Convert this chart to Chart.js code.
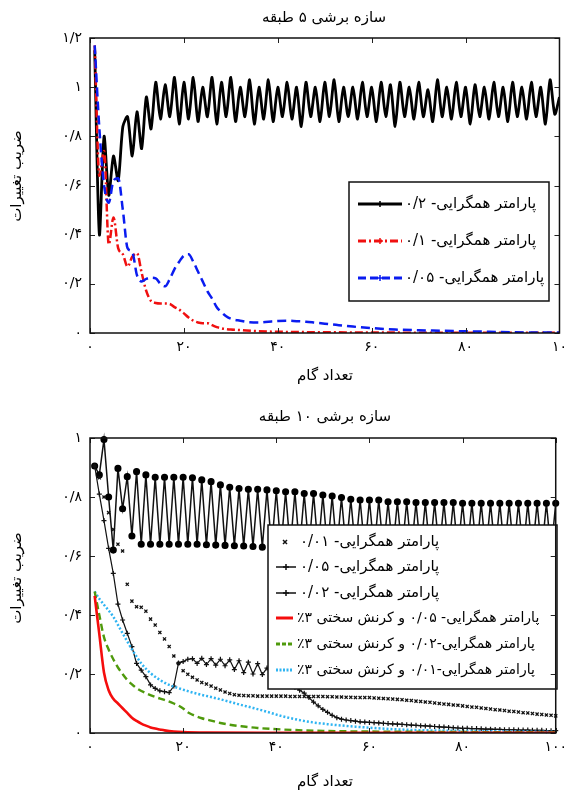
<!DOCTYPE html>
<html lang="fa">
<head>
<meta charset="utf-8">
<title>ضریب تغییرات - سازه برشی</title>
<script src="https://cdn.jsdelivr.net/npm/chart.js@4.4.1/dist/chart.umd.min.js"></script>
<style>
    body { margin: 0; background: #fff; }
    .panel { position: absolute; left: 0; width: 573px; }
    #panel5 { top: 0; height: 400px; }
    #panel10 { top: 400px; height: 396px; }
</style>
</head>
<body>
<div class="panel" id="panel5"><canvas id="chart5" width="573" height="400"></canvas></div>
<div class="panel" id="panel10"><canvas id="chart10" width="573" height="396"></canvas></div>
<script>
const FONT = '"DejaVu Sans", sans-serif';

// گام‌ها (محور افقی)
const steps = [
    1, 2, 3, 4, 5, 6, 7, 8, 9, 10, 11, 12, 13, 14, 15, 16, 17, 18, 19, 20,
    21, 22, 23, 24, 25, 26, 27, 28, 29, 30, 31, 32, 33, 34, 35, 36, 37, 38, 39, 40,
    41, 42, 43, 44, 45, 46, 47, 48, 49, 50, 51, 52, 53, 54, 55, 56, 57, 58, 59, 60,
    61, 62, 63, 64, 65, 66, 67, 68, 69, 70, 71, 72, 73, 74, 75, 76, 77, 78, 79, 80,
    81, 82, 83, 84, 85, 86, 87, 88, 89, 90, 91, 92, 93, 94, 95, 96, 97, 98, 99, 100
];

// ---- سازه ۵ طبقه ----
const xTicks5 = ['۰', '۲۰', '۴۰', '۶۰', '۸۰', '۱۰'];
const yTicks5 = ['۰', '۰/۲', '۰/۴', '۰/۶', '۰/۸', '۱', '۱/۲'];

const beta02_5 = [
    1.15, 0.40, 0.80, 0.56, 0.72, 0.62, 0.84, 0.88, 0.72, 0.90,
    0.75, 0.96, 0.83, 1.02, 0.87, 1.01, 0.88, 1.04, 0.85, 1.02,
    0.87, 1.04, 0.86, 1.00, 0.88, 1.04, 0.85, 1.02, 0.88, 1.04,
    0.86, 1.00, 0.88, 1.03, 0.85, 1.00, 0.87, 1.03, 0.86, 1.00,
    0.88, 1.02, 0.87, 1.00, 0.84, 1.02, 0.88, 1.00, 0.86, 1.02,
    0.88, 1.03, 0.86, 1.00, 0.88, 1.00, 0.87, 1.02, 0.88, 1.00,
    0.86, 1.02, 0.88, 1.01, 0.84, 1.02, 0.88, 1.00, 0.87, 1.02,
    0.88, 0.99, 0.86, 1.03, 0.88, 1.00, 0.87, 1.02, 0.88, 1.00,
    0.85, 1.01, 0.88, 1.00, 0.87, 1.02, 0.88, 1.00, 0.86, 1.02,
    0.88, 1.00, 0.87, 1.02, 0.88, 1.00, 0.85, 1.03, 0.89, 0.96
];

const beta01X_5 = [1, 2, 3, 4, 5, 6, 7, 8, 9, 10, 11, 12, 13, 14, 15, 16, 17, 18, 19, 20,
    21, 22, 23, 24, 25, 26, 27, 28, 29, 30, 32, 35, 40, 50, 60, 80, 100];
const beta01Y_5 = [1.17, 0.64, 0.74, 0.36, 0.47, 0.345, 0.32, 0.27, 0.31, 0.325, 0.245, 0.17, 0.13, 0.122, 0.12, 0.12, 0.118, 0.105, 0.095, 0.08,
    0.063, 0.05, 0.043, 0.04, 0.04, 0.032, 0.024, 0.019, 0.016, 0.014, 0.012, 0.008, 0.005, 0.003, 0.002, 0.001, 0.001];

const beta005X_5 = [1, 2, 3, 4, 5, 6, 7, 8, 9, 10, 11, 12, 13, 14, 15, 16, 17, 18, 19, 20,
    21, 22, 23, 24, 25, 26, 27, 28, 29, 30, 32, 34, 36, 38, 40, 42, 44, 46, 48, 50,
    53, 56, 60, 65, 70, 75, 80, 85, 90, 95, 100];
const beta005Y_5 = [1.17, 0.83, 0.60, 0.53, 0.62, 0.63, 0.50, 0.345, 0.33, 0.235, 0.21, 0.22, 0.225, 0.222, 0.20, 0.19, 0.22, 0.26, 0.29, 0.315,
    0.32, 0.29, 0.25, 0.21, 0.17, 0.14, 0.105, 0.085, 0.068, 0.058, 0.05, 0.044, 0.043, 0.046, 0.049, 0.05, 0.048, 0.046, 0.042, 0.038,
    0.032, 0.026, 0.02, 0.014, 0.011, 0.009, 0.007, 0.005, 0.003, 0.002, 0.002];

// ---- سازه ۱۰ طبقه ----
const xTicks10 = ['۰', '۲۰', '۴۰', '۶۰', '۸۰', '۱۰۰'];
const yTicks10 = ['۰', '۰/۲', '۰/۴', '۰/۶', '۰/۸', '۱'];

const beta001_10 = [
    0.905, 0.865, 0.80, 0.747, 0.69, 0.64, 0.617, 0.504, 0.447, 0.428,
    0.426, 0.413, 0.386, 0.366, 0.341, 0.319, 0.293, 0.261, 0.236, 0.211,
    0.199, 0.189, 0.18, 0.171, 0.166, 0.159, 0.152, 0.146, 0.139, 0.134,
    0.13, 0.128, 0.127, 0.126, 0.126, 0.125, 0.125, 0.125, 0.125, 0.125,
    0.125, 0.125, 0.124, 0.124, 0.124, 0.124, 0.124, 0.124, 0.124, 0.124,
    0.123, 0.123, 0.122, 0.122, 0.121, 0.121, 0.12, 0.12, 0.12, 0.12,
    0.119, 0.118, 0.117, 0.116, 0.115, 0.114, 0.113, 0.111, 0.11, 0.108,
    0.107, 0.105, 0.104, 0.102, 0.1, 0.098, 0.097, 0.095, 0.094, 0.092,
    0.09, 0.088, 0.087, 0.085, 0.083, 0.081, 0.079, 0.078, 0.076, 0.074,
    0.073, 0.071, 0.069, 0.068, 0.066, 0.064, 0.063, 0.061, 0.06, 0.058
];

const beta005_10 = [
    0.905, 0.875, 0.995, 0.80, 0.62, 0.897, 0.76, 0.869, 0.668, 0.886,
    0.64, 0.875, 0.64, 0.867, 0.64, 0.867, 0.64, 0.867, 0.64, 0.867,
    0.64, 0.865, 0.64, 0.858, 0.638, 0.852, 0.637, 0.841, 0.636, 0.833,
    0.635, 0.829, 0.634, 0.826, 0.632, 0.826, 0.63, 0.824, 0.628, 0.821,
    0.626, 0.818, 0.625, 0.818, 0.624, 0.812, 0.623, 0.812, 0.622, 0.807,
    0.621, 0.803, 0.62, 0.798, 0.62, 0.792, 0.619, 0.79, 0.618, 0.79,
    0.618, 0.79, 0.617, 0.784, 0.617, 0.784, 0.616, 0.784, 0.616, 0.781,
    0.615, 0.781, 0.615, 0.781, 0.615, 0.781, 0.614, 0.781, 0.614, 0.779,
    0.614, 0.779, 0.613, 0.779, 0.613, 0.779, 0.613, 0.779, 0.613, 0.779,
    0.612, 0.779, 0.612, 0.779, 0.612, 0.779, 0.612, 0.779, 0.612, 0.779
];

const beta002_10 = [
    0.905, 0.81, 0.72, 0.626, 0.541, 0.437, 0.383, 0.338, 0.293, 0.236,
    0.213, 0.191, 0.163, 0.151, 0.143, 0.14, 0.137, 0.159, 0.237, 0.242,
    0.25, 0.252, 0.236, 0.253, 0.232, 0.252, 0.23, 0.25, 0.228, 0.248,
    0.215, 0.245, 0.205, 0.24, 0.2, 0.235, 0.198, 0.22, 0.2, 0.205,
    0.19, 0.185, 0.17, 0.155, 0.145, 0.135, 0.12, 0.105, 0.092, 0.08,
    0.07, 0.06, 0.052, 0.047, 0.044, 0.042, 0.04, 0.038, 0.037, 0.036,
    0.035, 0.034, 0.033, 0.032, 0.031, 0.03, 0.029, 0.028, 0.027, 0.026,
    0.025, 0.024, 0.023, 0.022, 0.021, 0.02, 0.019, 0.018, 0.017, 0.016,
    0.016, 0.015, 0.015, 0.014, 0.013, 0.013, 0.012, 0.012, 0.011, 0.011,
    0.011, 0.01, 0.01, 0.01, 0.009, 0.009, 0.009, 0.008, 0.008, 0.008
];

const hard005X = [1, 2, 3, 4, 5, 6, 7, 8, 9, 10, 11, 12, 13, 14, 15, 16, 18, 20, 25, 40, 100];
const hard005Y = [0.465, 0.335, 0.205, 0.145, 0.116, 0.1, 0.084, 0.068, 0.052, 0.041, 0.032, 0.025, 0.019, 0.015, 0.012, 0.009, 0.005, 0.003, 0.0015, 0.001, 0.0005];

const hard002X = [1, 2, 3, 4, 5, 6, 7, 8, 9, 10, 12, 14, 16, 18, 19, 20, 21, 22, 24, 26, 28, 30, 33, 36, 40, 44, 50, 60, 70, 85, 100];
const hard002Y = [0.48, 0.40, 0.325, 0.283, 0.25, 0.222, 0.2, 0.18, 0.165, 0.152, 0.135, 0.122, 0.112, 0.1, 0.093, 0.083, 0.07, 0.062, 0.05, 0.042, 0.034, 0.028, 0.022, 0.017, 0.013, 0.01, 0.007, 0.005, 0.004, 0.003, 0.002];

const hard001X = [1, 2, 3, 5, 7, 9, 11, 13, 15, 17, 19, 21, 23, 26, 29, 32, 35, 38, 41, 44, 47, 51, 55, 60, 65, 70, 76, 85, 100];
const hard001Y = [0.48, 0.455, 0.435, 0.394, 0.338, 0.284, 0.236, 0.203, 0.18, 0.163, 0.152, 0.142, 0.133, 0.122, 0.11, 0.097, 0.085, 0.072, 0.058, 0.047, 0.038, 0.03, 0.024, 0.018, 0.013, 0.01, 0.008, 0.006, 0.004];

const pts = (xs, ys) => xs.map((x, i) => ({ x: x, y: ys[i] }));

// frame and inward ticks on all four sides
const frameTicks = {
    id: 'frameTicks',
    afterDraw(chart) {
        const { ctx, chartArea: a, scales: { x, y } } = chart;
        ctx.save();
        ctx.strokeStyle = '#222';
        ctx.lineWidth = 1;
        ctx.beginPath();
        x.ticks.forEach(t => {
            const px = Math.round(x.getPixelForValue(t.value)) + 0.5;
            ctx.moveTo(px, a.bottom); ctx.lineTo(px, a.bottom - 5);
            ctx.moveTo(px, a.top); ctx.lineTo(px, a.top + 5);
        });
        y.ticks.forEach(t => {
            const py = Math.round(y.getPixelForValue(t.value)) + 0.5;
            ctx.moveTo(a.left, py); ctx.lineTo(a.left + 5, py);
            ctx.moveTo(a.right, py); ctx.lineTo(a.right - 5, py);
        });
        ctx.stroke();
        ctx.lineWidth = 1.5;
        ctx.strokeStyle = '#111';
        ctx.strokeRect(a.left, a.top, a.right - a.left, a.bottom - a.top);
        ctx.restore();
    }
};

function drawMarker(ctx, style, x, y, r) {
    ctx.beginPath();
    if (style === 'circle') {
        ctx.arc(x, y, r, 0, Math.PI * 2);
        ctx.fill();
        return;
    }
    if (style === 'crossRot') {
        ctx.moveTo(x - r, y - r); ctx.lineTo(x + r, y + r);
        ctx.moveTo(x - r, y + r); ctx.lineTo(x + r, y - r);
    } else {
        ctx.moveTo(x - r, y); ctx.lineTo(x + r, y);
        ctx.moveTo(x, y - r); ctx.lineTo(x, y + r);
    }
    ctx.stroke();
}

// legend box plus titles, drawn on top of the data
const decorations = {
    id: 'decorations',
    afterDatasetsDraw(chart, args, opts) {
        const ctx = chart.ctx;
        const L = opts.legend;
        ctx.save();
        ctx.fillStyle = '#fff';
        ctx.fillRect(L.x, L.y, L.w, L.h);
        ctx.strokeStyle = '#111';
        ctx.lineWidth = 1.5;
        ctx.strokeRect(L.x, L.y, L.w, L.h);
        L.rows.forEach(r => {
            ctx.strokeStyle = r.color;
            ctx.fillStyle = r.color;
            if (r.lineWidth) {
                ctx.lineWidth = r.lineWidth;
                ctx.setLineDash(r.dash || []);
                ctx.beginPath();
                ctx.moveTo(r.x0, r.y);
                ctx.lineTo(r.x1, r.y);
                ctx.stroke();
                ctx.setLineDash([]);
            }
            if (r.marker) {
                ctx.lineWidth = 1.5;
                drawMarker(ctx, r.marker, (r.x0 + r.x1) / 2, r.y, r.markerSize || 3);
            }
            ctx.fillStyle = '#000';
            ctx.font = r.font || L.font;
            ctx.direction = 'rtl';
            ctx.textAlign = 'left';
            ctx.textBaseline = 'middle';
            ctx.fillText(r.text, r.textX || L.textX, r.y);
        });
        ctx.restore();

        ctx.save();
        ctx.fillStyle = '#000';
        ctx.direction = 'rtl';
        ctx.textAlign = 'center';
        ctx.textBaseline = 'middle';
        ctx.font = opts.titleFont;
        ctx.fillText(opts.title, opts.titleX, opts.titleY);
        ctx.fillText(opts.xTitle, opts.xTitleX, opts.xTitleY);
        ctx.translate(opts.yTitleX, opts.yTitleY);
        ctx.rotate(-Math.PI / 2);
        ctx.fillText(opts.yTitle, 0, 0);
        ctx.restore();
    }
};

function axes(xLabels, yLabels, yMax, xHeight) {
    return {
        x: {
            type: 'linear', min: 0, max: 100,
            grid: { display: false, drawTicks: false },
            border: { display: false },
            ticks: {
                stepSize: 20, autoSkip: false, maxRotation: 0, padding: 6,
                color: '#000', font: { family: FONT, size: 14 },
                callback: (v, i) => xLabels[i]
            },
            afterFit: s => { s.height = xHeight; }
        },
        y: {
            type: 'linear', min: 0, max: yMax,
            grid: { display: false, drawTicks: false },
            border: { display: false },
            ticks: {
                stepSize: 0.2, autoSkip: false, padding: 8,
                color: '#000', font: { family: FONT, size: 14 },
                callback: (v, i) => yLabels[i]
            },
            afterFit: s => { s.width = 90; }
        }
    };
}

const common = {
    responsive: false,
    animation: false,
    layout: { padding: { left: 0, right: 13, top: 38, bottom: 0 } },
    elements: { point: { radius: 0 }, line: { tension: 0 } }
};

new Chart(document.getElementById('chart5'), {
    type: 'line',
    data: {
        datasets: [
            {
                label: 'پارامتر همگرایی- ۰/۰۵',
                data: pts(beta005X_5, beta005Y_5),
                borderColor: '#0a1cf0', borderWidth: 2.5, borderDash: [9, 5],
                cubicInterpolationMode: 'monotone'
            },
            {
                label: 'پارامتر همگرایی- ۰/۱',
                data: pts(beta01X_5, beta01Y_5),
                borderColor: '#f01010', borderWidth: 2.5, borderDash: [8, 3, 2, 3],
                cubicInterpolationMode: 'monotone'
            },
            {
                label: 'پارامتر همگرایی- ۰/۲',
                data: pts(steps, beta02_5),
                borderColor: '#000', borderWidth: 2.8, tension: 0.25
            }
        ]
    },
    options: {
        ...common,
        scales: axes(xTicks5, yTicks5, 1.2, 67),
        plugins: {
            legend: { display: false },
            tooltip: { enabled: false },
            decorations: {
                title: 'سازه برشی ۵ طبقه', titleX: 324, titleY: 18,
                xTitle: 'تعداد گام', xTitleX: 325, xTitleY: 376,
                yTitle: 'ضریب تغییرات', yTitleX: 17, yTitleY: 176,
                titleFont: '15px ' + FONT,
                legend: {
                    x: 349, y: 182, w: 200, h: 119, textX: 405, font: '15px ' + FONT,
                    rows: [
                        { text: 'پارامتر همگرایی- ۰/۲', y: 204, x0: 358, x1: 402, color: '#000', lineWidth: 3, marker: 'cross' },
                        { text: 'پارامتر همگرایی- ۰/۱', y: 241, x0: 358, x1: 402, color: '#f01010', lineWidth: 3, dash: [8, 3, 2, 3], marker: 'cross' },
                        { text: 'پارامتر همگرایی- ۰/۰۵', y: 278, x0: 358, x1: 402, color: '#0a1cf0', lineWidth: 3, dash: [8, 4], marker: 'cross' }
                    ]
                }
            }
        }
    },
    plugins: [decorations, frameTicks]
});

new Chart(document.getElementById('chart10'), {
    type: 'line',
    data: {
        datasets: [
            {
                label: 'پارامتر همگرایی- ۰/۰۵ و کرنش سختی ۳٪',
                data: pts(hard005X, hard005Y),
                borderColor: '#f50d0d', borderWidth: 2.6,
                cubicInterpolationMode: 'monotone'
            },
            {
                label: 'پارامتر همگرایی-۰/۰۲ و کرنش سختی ۳٪',
                data: pts(hard002X, hard002Y),
                borderColor: '#4f9a0c', borderWidth: 2.4, borderDash: [7, 4],
                cubicInterpolationMode: 'monotone'
            },
            {
                label: 'پارامتر همگرایی-۰/۰۱ و کرنش سختی ۳٪',
                data: pts(hard001X, hard001Y),
                borderColor: '#2fb4f2', borderWidth: 2.5, borderDash: [2, 2],
                cubicInterpolationMode: 'monotone'
            },
            {
                label: 'پارامتر همگرایی- ۰/۰۱',
                data: pts(steps, beta001_10),
                showLine: false, clip: false,
                pointStyle: 'crossRot', pointRadius: 2.2, pointBorderWidth: 1.3,
                pointBorderColor: '#111'
            },
            {
                label: 'پارامتر همگرایی- ۰/۰۲',
                data: pts(steps, beta002_10),
                borderColor: '#111', borderWidth: 1.2, clip: false,
                pointStyle: 'cross', pointRadius: 2.5, pointBorderWidth: 1.2,
                pointBorderColor: '#111'
            },
            {
                label: 'پارامتر همگرایی- ۰/۰۵',
                data: pts(steps, beta005_10),
                borderColor: '#111', borderWidth: 1.5, clip: false,
                pointStyle: 'circle', pointRadius: 2.8,
                pointBackgroundColor: '#000', pointBorderColor: '#000'
            }
        ]
    },
    options: {
        ...common,
        scales: axes(xTicks10, yTicks10, 1, 63),
        plugins: {
            legend: { display: false },
            tooltip: { enabled: false },
            decorations: {
                title: 'سازه برشی ۱۰ طبقه', titleX: 325, titleY: 17,
                xTitle: 'تعداد گام', xTitleX: 325, xTitleY: 382,
                yTitle: 'ضریب تغییرات', yTitleX: 17, yTitleY: 178,
                titleFont: '15px ' + FONT,
                legend: {
                    x: 268, y: 125, w: 289, h: 164, textX: 300, font: '15px ' + FONT,
                    rows: [
                        { text: 'پارامتر همگرایی- ۰/۰۱', y: 142, x0: 276, x1: 294, color: '#111', marker: 'crossRot', markerSize: 2 },
                        { text: 'پارامتر همگرایی- ۰/۰۵', y: 167, x0: 276, x1: 296, color: '#111', lineWidth: 1.5, marker: 'cross' },
                        { text: 'پارامتر همگرایی- ۰/۰۲', y: 193, x0: 276, x1: 296, color: '#111', lineWidth: 1.5, marker: 'cross' },
                        { text: 'پارامتر همگرایی- ۰/۰۵ و کرنش سختی ۳٪', y: 218, x0: 276, x1: 293, color: '#f50d0d', lineWidth: 3, textX: 297, font: '14px ' + FONT },
                        { text: 'پارامتر همگرایی-۰/۰۲ و کرنش سختی ۳٪', y: 244, x0: 276, x1: 293, color: '#4f9a0c', lineWidth: 3, dash: [4, 2], textX: 297, font: '14px ' + FONT },
                        { text: 'پارامتر همگرایی-۰/۰۱ و کرنش سختی ۳٪', y: 270, x0: 276, x1: 293, color: '#2fb4f2', lineWidth: 3, dash: [2, 1.5], textX: 297, font: '14px ' + FONT }
                    ]
                }
            }
        }
    },
    plugins: [decorations, frameTicks]
});
</script>
</body>
</html>
